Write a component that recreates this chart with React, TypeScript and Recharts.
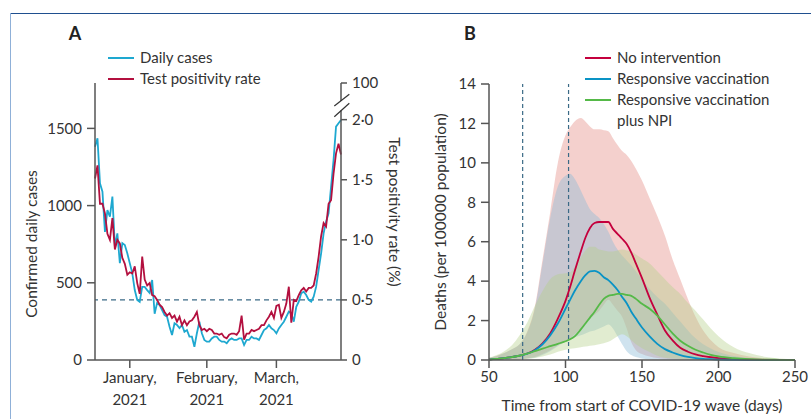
import React from "react";
import {
  ComposedChart,
  Line,
  Area,
  XAxis,
  YAxis,
  ReferenceLine,
  Legend,
  Label,
} from "recharts";

const FONT = "Lato, 'Noto Sans', sans-serif";
const INK = "#333";
const AXIS = "#555";
const FS = 15;

// ---- panel A: daily values from 18 Dec 2020 to 27 Mar 2021 ----
const dailyCases = [
  1381, 1436, 1144, 1090, 830, 971, 928, 1058, 734, 820, 627, 757, 745, 691,
  627, 563, 453, 389, 376, 473, 473, 453, 434, 518, 300, 370, 356, 324, 291,
  280, 216, 162, 238, 227, 207, 227, 183, 194, 151, 151, 86, 173, 248, 173,
  130, 119, 119, 140, 151, 151, 130, 119, 119, 108, 130, 140, 130, 130, 140,
  140, 97, 130, 130, 151, 140, 140, 130, 162, 194, 205, 227, 205, 194, 173,
  205, 227, 248, 280, 313, 302, 248, 345, 378, 432, 442, 421, 389, 378, 410,
  475, 583, 691, 820, 896, 950, 1122, 1295, 1511, 1533, 1554,
];
const positivityRate = [
  1.51, 1.62, 1.3, 1.3, 1.22, 1.05, 1.0, 1.18, 0.92, 1.0, 0.97, 0.85, 0.8,
  0.71, 0.73, 0.72, 0.78, 0.64, 0.55, 0.86, 0.67, 0.62, 0.64, 0.54, 0.53, 0.5,
  0.46, 0.44, 0.4, 0.37, 0.39, 0.35, 0.37, 0.32, 0.36, 0.29, 0.33, 0.29, 0.32,
  0.33, 0.36, 0.4, 0.29, 0.25, 0.26, 0.24, 0.26, 0.25, 0.22, 0.22, 0.21, 0.22,
  0.19, 0.18, 0.21, 0.22, 0.22, 0.21, 0.24, 0.37, 0.17, 0.22, 0.22, 0.25,
  0.24, 0.25, 0.26, 0.29, 0.29, 0.33, 0.36, 0.4, 0.35, 0.45, 0.46, 0.35, 0.4,
  0.47, 0.61, 0.31, 0.5, 0.49, 0.54, 0.58, 0.6, 0.57, 0.6, 0.6, 0.62, 0.72,
  0.86, 1.03, 1.14, 1.11, 1.3, 1.33, 1.55, 1.72, 1.8, 1.71,
];
const monthTickDays = [14, 45, 73];
const monthTickLabels = [
  ["January,", "2021"],
  ["February,", "2021"],
  ["March,", "2021"],
];
const casesTicks = [0, 500, 1000, 1500];
const rateTicks = [0, 0.5, 1, 1.5, 2, 2.305];
const rateTickLabels = ["0", "0·5", "1·0", "1·5", "2·0", "100"];

const panelA = dailyCases.map((cases, i) => ({
  day: i,
  cases,
  rate: positivityRate[i],
}));

// ---- panel B: deaths per 100000 by day of wave ----
const waveDays = [
  50, 55, 60, 65, 70, 72, 75, 80, 85, 90, 95, 100, 103, 106, 110, 113, 116,
  119, 122, 125, 128, 131, 134, 137, 140, 143, 146, 150, 155, 160, 165, 170,
  175, 180, 185, 190, 195, 200, 210, 220, 230, 240, 250,
];
const noIntervention = [
  0.02, 0.06, 0.1, 0.15, 0.22, 0.26, 0.33, 0.52, 0.85, 1.35, 2.1, 3.0, 3.7,
  4.5, 5.5, 6.2, 6.7, 6.95, 7.0, 7.0, 7.0, 6.65, 6.4, 6.15, 5.88, 5.45, 4.9,
  4.15, 3.15, 2.3, 1.5, 1.0, 0.62, 0.42, 0.28, 0.2, 0.14, 0.09, 0.04, 0.02,
  0.01, 0.005, 0,
];
const responsiveVacc = [
  0.02, 0.06, 0.1, 0.15, 0.22, 0.26, 0.32, 0.5, 0.8, 1.25, 1.85, 2.6, 3.05,
  3.5, 4.0, 4.3, 4.5, 4.52, 4.42, 4.2, 4.05, 3.82, 3.55, 3.2, 2.88, 2.45, 2.1,
  1.65, 1.2, 0.82, 0.55, 0.38, 0.25, 0.16, 0.1, 0.06, 0.04, 0.02, 0.01, 0.005,
  0, 0, 0,
];
const vaccPlusNpi = [
  0.02, 0.06, 0.1, 0.15, 0.22, 0.26, 0.32, 0.45, 0.58, 0.7, 0.82, 0.95, 1.05,
  1.2, 1.55, 1.85, 2.15, 2.45, 2.8, 3.1, 3.25, 3.3, 3.35, 3.35, 3.3, 3.25, 3.1,
  2.85, 2.6, 2.25, 1.8, 1.35, 0.98, 0.72, 0.52, 0.38, 0.26, 0.18, 0.09, 0.04,
  0.02, 0.01, 0,
];
const noInterventionLow = [
  0, 0, 0.01, 0.02, 0.04, 0.05, 0.08, 0.15, 0.3, 0.5, 0.75, 0.95, 1.1, 1.3,
  1.6, 1.9, 2.1, 2.3, 2.5, 2.8, 3.05, 2.8, 2.5, 2.2, 1.6, 0.9, 0.5, 0.3, 0.18,
  0.1, 0.06, 0.04, 0.02, 0.01, 0, 0, 0, 0, 0, 0, 0, 0, 0,
];
const noInterventionHigh = [
  0.1, 0.2, 0.35, 0.55, 0.8, 1.0, 1.45, 2.7, 5.1, 7.5, 10.0, 11.4, 11.8, 12.1,
  12.27, 12.1, 11.85, 11.7, 11.7, 11.65, 11.6, 11.25, 10.9, 10.6, 10.4, 10.1,
  9.7, 9.1, 8.2, 7.3, 6.3, 5.1, 4.1, 3.1, 2.2, 1.5, 1.0, 0.65, 0.35, 0.18,
  0.09, 0.05, 0.03,
];
const responsiveVaccLow = [
  0, 0, 0.01, 0.02, 0.04, 0.05, 0.07, 0.12, 0.25, 0.45, 0.7, 0.95, 1.05, 1.15,
  1.25, 1.35, 1.45, 1.5, 1.6, 1.7, 1.8, 1.6, 1.2, 0.8, 0.45, 0.25, 0.15, 0.08,
  0.04, 0.02, 0.01, 0, 0, 0, 0, 0, 0, 0, 0, 0, 0, 0, 0,
];
const responsiveVaccHigh = [
  0.1, 0.2, 0.35, 0.55, 0.8, 1.0, 1.4, 2.6, 4.9, 7.2, 8.8, 9.35, 9.45, 9.2,
  8.6, 8.1, 7.65, 7.4, 7.2, 6.9, 6.5, 6.0, 5.6, 5.3, 5.05, 4.8, 4.5, 4.1, 3.6,
  3.2, 2.85, 2.4, 1.95, 1.5, 1.1, 0.8, 0.58, 0.4, 0.2, 0.1, 0.05, 0.02, 0.01,
];
const vaccPlusNpiLow = [
  0, 0, 0.01, 0.02, 0.03, 0.04, 0.06, 0.1, 0.18, 0.28, 0.42, 0.52, 0.57, 0.6,
  0.65, 0.68, 0.72, 0.75, 0.8, 0.85, 0.92, 1.05, 1.2, 1.3, 1.2, 1.0, 0.8, 0.6,
  0.4, 0.22, 0.12, 0.07, 0.04, 0.02, 0.01, 0, 0, 0, 0, 0, 0, 0, 0,
];
const vaccPlusNpiHigh = [
  0.12, 0.25, 0.45, 0.75, 1.25, 1.5, 1.9, 2.75, 3.5, 4.1, 4.35, 4.4, 4.45, 4.7,
  5.2, 5.55, 5.75, 5.75, 5.6, 5.55, 5.5, 5.5, 5.55, 5.6, 5.55, 5.5, 5.35,
  5.15, 4.9, 4.5, 4.1, 3.7, 3.35, 2.9, 2.5, 2.05, 1.6, 1.2, 0.65, 0.35, 0.17,
  0.08, 0.04,
];
const waveTicks = [50, 100, 150, 200, 250];
const deathTicks = [0, 2, 4, 6, 8, 10, 12, 14];

const panelB = waveDays.map((day, i) => ({
  day,
  noInt: noIntervention[i],
  vacc: responsiveVacc[i],
  npi: vaccPlusNpi[i],
  noIntBand: [noInterventionLow[i], noInterventionHigh[i]],
  vaccBand: [responsiveVaccLow[i], responsiveVaccHigh[i]],
  npiBand: [vaccPlusNpiLow[i], vaccPlusNpiHigh[i]],
}));

const COLORS = {
  cases: "#1ea8d0",
  rate: "#b3103f",
  noInt: "#c4003d",
  vacc: "#0a93c5",
  npi: "#55b948",
};

const tickStyle = { fill: INK, fontSize: FS, fontFamily: FONT };

function axisTitle(x: number, y: number, angle: number, text: string) {
  return () => (
    <text
      x={x}
      y={y}
      transform={`rotate(${angle} ${x} ${y})`}
      textAnchor="middle"
      dominantBaseline="central"
      fill={INK}
      fontSize={15.5}
      fontFamily={FONT}
    >
      {text}
    </text>
  );
}

function MonthTick({ x, y, payload }: any) {
  const lines = monthTickLabels[monthTickDays.indexOf(payload.value)] ?? [];
  return (
    <text x={x} y={y} textAnchor="middle" fill={INK} fontSize={FS} fontFamily={FONT}>
      {lines.map((l, i) => (
        <tspan key={i} x={x} dy={i === 0 ? 13 : 22}>
          {l}
        </tspan>
      ))}
    </text>
  );
}

function makeLegend(items: { label: string[]; color: string }[]) {
  return () => (
    <div style={{ fontFamily: FONT, fontSize: 15, color: INK, lineHeight: "21px" }}>
      {items.map((it) => (
        <div key={it.label[0]} style={{ display: "flex", alignItems: "flex-start" }}>
          <span
            style={{
              display: "inline-block",
              width: 26,
              height: 0,
              borderTop: `2px solid ${it.color}`,
              marginTop: 10,
              marginRight: 6,
            }}
          />
          <span>
            {it.label.map((l) => (
              <div key={l}>{l}</div>
            ))}
          </span>
        </div>
      ))}
    </div>
  );
}

function PanelA() {
  return (
    <ComposedChart
      width={410}
      height={419}
      data={panelA}
      margin={{ top: 83, right: 29, bottom: 19, left: 40 }}
      style={{ position: "absolute", left: 0, top: 0 }}
    >
      <XAxis
        dataKey="day"
        type="number"
        domain={[0, 99]}
        ticks={monthTickDays}
        tick={<MonthTick />}
        tickSize={8}
        stroke={AXIS}
        strokeWidth={1.5}
        height={40}
      />
      <YAxis
        yAxisId="left"
        domain={[0, 1794]}
        ticks={casesTicks}
        tick={tickStyle}
        tickSize={8}
        tickMargin={5}
        stroke={AXIS}
        strokeWidth={1.5}
        width={55}
      >
        <Label content={axisTitle(31, 244, -90, "Confirmed daily cases")} />
      </YAxis>
      <YAxis
        yAxisId="right"
        orientation="right"
        domain={[0, 2.305]}
        ticks={rateTicks}
        tickFormatter={(v: number) => rateTickLabels[rateTicks.indexOf(v)] ?? ""}
        tick={tickStyle}
        tickSize={6}
        tickMargin={5}
        stroke={AXIS}
        strokeWidth={1.5}
        width={40}
      >
        <Label content={axisTitle(395, 212, 90, "Test positivity rate (%)")} />
      </YAxis>
      <ReferenceLine
        yAxisId="right"
        y={0.5}
        stroke="#3a6a86"
        strokeDasharray="5 4"
        strokeWidth={1.3}
      />
      <Line
        yAxisId="left"
        dataKey="cases"
        stroke={COLORS.cases}
        strokeWidth={1.8}
        dot={false}
        isAnimationActive={false}
      />
      <Line
        yAxisId="right"
        dataKey="rate"
        stroke={COLORS.rate}
        strokeWidth={1.8}
        dot={false}
        isAnimationActive={false}
      />
      <Legend
        layout="vertical"
        align="center"
        verticalAlign="middle"
        content={makeLegend([
          { label: ["Daily cases"], color: COLORS.cases },
          { label: ["Test positivity rate"], color: COLORS.rate },
        ])}
        wrapperStyle={{ left: 108, top: 47, width: "auto" }}
      />
    </ComposedChart>
  );
}

function PanelB() {
  return (
    <ComposedChart
      width={411}
      height={419}
      data={panelB}
      margin={{ top: 84, right: 16, bottom: 19, left: 39 }}
      style={{ position: "absolute", left: 400, top: 0 }}
    >
      <XAxis
        dataKey="day"
        type="number"
        domain={[50, 250]}
        ticks={waveTicks}
        tick={tickStyle}
        tickSize={8}
        tickMargin={3}
        stroke={AXIS}
        strokeWidth={1.5}
        height={40}
      >
        <Label content={axisTitle(242, 405, 0, "Time from start of COVID-19 wave (days)")} />
      </XAxis>
      <YAxis
        domain={[0, 14]}
        ticks={deathTicks}
        tick={tickStyle}
        tickSize={8}
        tickMargin={5}
        stroke={AXIS}
        strokeWidth={1.5}
        width={50}
      >
        <Label content={axisTitle(40, 222, -90, "Deaths (per 100000 population)")} />
      </YAxis>
      <Area
        type="monotone"
        dataKey="noIntBand"
        stroke="none"
        fill="#e38a82"
        fillOpacity={0.4}
        isAnimationActive={false}
      />
      <Area
        type="monotone"
        dataKey="vaccBand"
        stroke="none"
        fill="#86b8d6"
        fillOpacity={0.4}
        isAnimationActive={false}
      />
      <Area
        type="monotone"
        dataKey="npiBand"
        stroke="none"
        fill="#b4d08a"
        fillOpacity={0.4}
        isAnimationActive={false}
      />
      <ReferenceLine x={72} stroke="#3a6a86" strokeDasharray="4 3" strokeWidth={1.2} />
      <ReferenceLine x={102} stroke="#3a6a86" strokeDasharray="4 3" strokeWidth={1.2} />
      <Line
        type="monotone"
        dataKey="noInt"
        stroke={COLORS.noInt}
        strokeWidth={1.8}
        dot={false}
        isAnimationActive={false}
      />
      <Line
        type="monotone"
        dataKey="vacc"
        stroke={COLORS.vacc}
        strokeWidth={1.8}
        dot={false}
        isAnimationActive={false}
      />
      <Line
        type="monotone"
        dataKey="npi"
        stroke={COLORS.npi}
        strokeWidth={1.8}
        dot={false}
        isAnimationActive={false}
      />
      <Legend
        layout="vertical"
        align="center"
        verticalAlign="middle"
        content={makeLegend([
          { label: ["No intervention"], color: COLORS.noInt },
          { label: ["Responsive vaccination"], color: COLORS.vacc },
          { label: ["Responsive vaccination", "plus NPI"], color: COLORS.npi },
        ])}
        wrapperStyle={{ left: 185, top: 47, width: "auto" }}
      />
    </ComposedChart>
  );
}

export default function App() {
  return (
    <div
      style={{
        position: "absolute",
        left: 0,
        top: 0,
        width: 811,
        height: 419,
        background: "#fff",
        overflow: "hidden",
      }}
    >
      <div style={{ position: "absolute", left: 10, top: 13, width: 801, height: 0, borderTop: "1.5px solid #1f4f8f" }} />
      <div style={{ position: "absolute", left: 10, top: 13, width: 0, height: 406, borderLeft: "1px solid #8fb0d8" }} />
      <PanelA />
      <PanelB />
      <svg
        width={811}
        height={419}
        style={{ position: "absolute", left: 0, top: 0, pointerEvents: "none" }}
      >
        <text x={75} y={40} textAnchor="middle" fontFamily={FONT} fontWeight={700} fontSize={18} fill="#222">
          A
        </text>
        <text x={470} y={40} textAnchor="middle" fontFamily={FONT} fontWeight={700} fontSize={18} fill="#222">
          B
        </text>
        <rect x={338} y={101} width={6} height={9.5} fill="#fff" />
        <line x1={334.3} y1={106} x2={349.3} y2={94.3} stroke="#333" strokeWidth={1.2} />
        <line x1={334.3} y1={116.7} x2={349.3} y2={103.3} stroke="#333" strokeWidth={1.2} />
      </svg>
    </div>
  );
}
